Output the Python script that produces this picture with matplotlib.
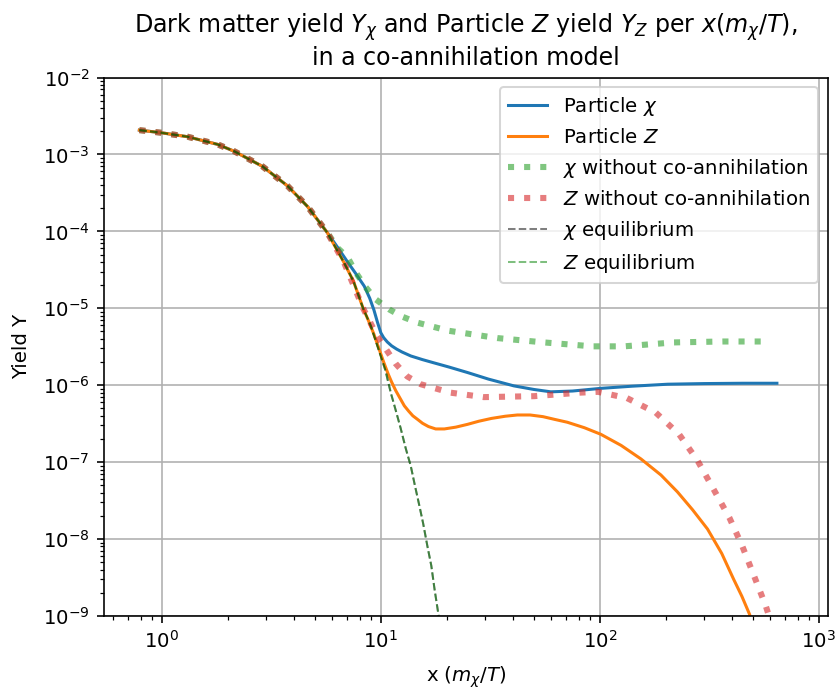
import numpy as np
import matplotlib
matplotlib.use("Agg")
import matplotlib.pyplot as plt

plt.rcParams['font.size'] = 9.75

# values (x = m_chi/T)
x_chi = [0.79, 1.0, 1.31, 1.8, 2.14, 2.88, 3.75, 4.63, 5.7, 6.4, 7.05, 7.7, 8.4, 8.9, 9.3,
         9.65, 10.0, 10.3, 10.7, 11.2, 11.8, 12.5, 13.7, 15.5, 17.5, 20.5, 24.9, 31, 40.5,
         50, 59.7, 75, 101, 140, 204, 300, 450, 643]
y_chi = [2.07e-3, 1.91e-3, 1.7e-3, 1.35e-3, 1.1e-3, 7.0e-4, 3.9e-4, 2.1e-4, 9.6e-5, 6.0e-5,
         4.0e-5, 2.8e-5, 1.94e-5, 1.35e-5, 9.5e-6, 6.6e-6, 4.8e-6, 4.15e-6, 3.65e-6,
         3.25e-6, 2.95e-6, 2.7e-6, 2.4e-6, 2.15e-6, 1.95e-6, 1.72e-6, 1.46e-6, 1.2e-6,
         9.8e-7, 8.8e-7, 8.2e-7, 8.4e-7, 9.1e-7, 9.7e-7, 1.03e-6, 1.05e-6, 1.06e-6, 1.06e-6]

x_z = [0.79, 1.0, 1.31, 1.8, 2.14, 2.88, 3.75, 4.63, 5.7, 6.8, 7.5, 8.3, 8.8, 9.3, 9.8,
       10.3, 10.8, 11.2, 11.7, 12.3, 12.8, 13.4, 14.0, 14.7, 15.5, 16.5, 17.8, 19.5, 22,
       24.9, 28, 32, 37, 42, 48, 55, 62, 71, 85, 101, 125, 154, 190, 226, 265, 310, 360,
       408, 445, 481, 530]
y_z = [2.07e-3, 1.91e-3, 1.7e-3, 1.35e-3, 1.1e-3, 7.0e-4, 3.9e-4, 2.1e-4, 9.6e-5, 3.9e-5,
       2.25e-5, 1.0e-5, 6.8e-6, 4.6e-6, 3.0e-6, 2.0e-6, 1.4e-6, 1.1e-6, 8.5e-7, 6.6e-7,
       5.4e-7, 4.6e-7, 4.0e-7, 3.6e-7, 3.2e-7, 2.9e-7, 2.7e-7, 2.7e-7, 2.85e-7, 3.1e-7,
       3.4e-7, 3.7e-7, 3.95e-7, 4.1e-7, 4.1e-7, 3.9e-7, 3.6e-7, 3.3e-7, 2.8e-7, 2.3e-7,
       1.65e-7, 1.1e-7, 6.8e-8, 4.1e-8, 2.4e-8, 1.35e-8, 6.5e-9, 3.0e-9, 1.8e-9, 1.07e-9,
       5.0e-10]

x_chi_noco = [0.79, 1.0, 1.31, 1.8, 2.14, 2.88, 3.75, 4.63, 5.7, 6.34, 7.05, 7.7, 8.5, 9.5,
              10.9, 12.5, 14.7, 20.4, 34, 55.5, 92.5, 129, 218, 365, 600]
y_chi_noco = [2.07e-3, 1.91e-3, 1.7e-3, 1.35e-3, 1.1e-3, 7.0e-4, 3.9e-4, 2.1e-4, 9.6e-5,
              6.1e-5, 4.6e-5, 2.9e-5, 1.9e-5, 1.3e-5, 9.7e-6, 7.8e-6, 6.5e-6, 5.1e-6,
              4.1e-6, 3.6e-6, 3.2e-6, 3.2e-6, 3.6e-6, 3.7e-6, 3.7e-6]

x_z_noco = [0.79, 1.0, 1.31, 1.8, 2.14, 2.88, 3.75, 4.63, 5.7, 6.8, 8.3, 9.6, 11.7, 13.2,
            15.2, 20.8, 29.5, 50, 81, 98, 133, 180, 230, 279, 331, 390, 446, 506, 572, 640]
y_z_noco = [2.07e-3, 1.91e-3, 1.7e-3, 1.35e-3, 1.1e-3, 7.0e-4, 3.9e-4, 2.1e-4, 9.6e-5,
            3.9e-5, 1.0e-5, 4.4e-6, 1.9e-6, 1.3e-6, 1.03e-6, 8.0e-7, 7.0e-7, 7.2e-7,
            8.0e-7, 8.2e-7, 6.8e-7, 4.4e-7, 2.3e-7, 1.05e-7, 4.4e-8, 1.9e-8, 8.2e-9,
            3.3e-9, 1.35e-9, 5.0e-10]

x_eq = [0.79, 1.0, 1.31, 1.8, 2.14, 2.88, 3.75, 4.63, 5.7, 6.8, 7.5, 8.3, 9.0, 9.85, 10.5,
        11.1, 11.7, 12.3, 13.0, 13.7, 14.3, 15.0, 15.6, 16.3, 17.0, 17.6, 18.3, 19.0]
y_chi_eq = [2.07e-3, 1.91e-3, 1.7e-3, 1.35e-3, 1.1e-3, 7.0e-4, 3.9e-4, 2.1e-4, 9.6e-5,
            3.9e-5, 2.25e-5, 1.0e-5, 5.9e-6, 2.7e-6, 1.55e-6, 8.0e-7, 4.7e-7, 2.8e-7,
            1.5e-7, 8.9e-8, 5.0e-8, 2.7e-8, 1.6e-8, 8.2e-9, 4.5e-9, 2.2e-9, 1.07e-9,
            5.5e-10]
y_z_eq = list(y_chi_eq)

fig = plt.figure(figsize=(835 / 146, 689 / 146), dpi=146)
ax = fig.add_axes([0.1246, 0.106, 0.867, 0.7815])

ax.plot(x_chi, y_chi, label=r'Particle $\chi$')
ax.plot(x_z, y_z, label=r'Particle $Z$')
ax.plot(x_chi_noco, y_chi_noco, ':', lw=3, color='C2', alpha=0.6,
        label=r'$\chi$ without co-annihilation')
ax.plot(x_z_noco, y_z_noco, ':', lw=3, color='C3', alpha=0.6,
        label=r'$Z$ without co-annihilation')
ax.plot(x_eq, y_chi_eq, '--', lw=1, color='k', alpha=0.5, label=r'$\chi$ equilibrium')
ax.plot(x_eq, y_z_eq, '--', lw=1, color='g', alpha=0.5, label=r'$Z$ equilibrium')

ax.set_xscale('log')
ax.set_yscale('log')
ax.set_xlim(0.545, 1100)
ax.set_ylim(1e-9, 1e-2)
ax.grid(True)
ax.set_xlabel(r'x ($m_\chi/T$)', labelpad=6)
ax.set_ylabel('Yield Y', labelpad=6)
ax.set_title('Dark matter yield $Y_\\chi$ and Particle $Z$ yield $Y_Z$ per $x(m_\\chi/T)$,\n'
             'in a co-annihilation model', fontsize=11.7)
ax.legend(loc='upper right')

fig.savefig('out.png', dpi=146)
